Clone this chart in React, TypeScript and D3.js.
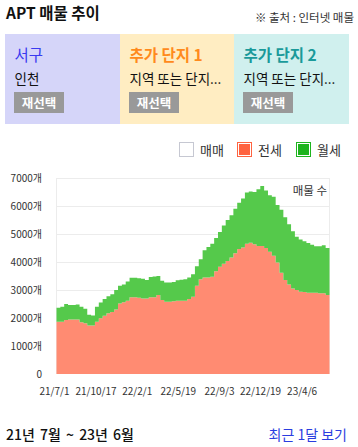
import React from "react";
import * as d3 from "d3";

const START_DATE = "2021-07-01";
const STEP_DAYS = 10;
const jeonse = [1870, 1870, 1930, 1950, 1950, 1950, 1850, 1810, 1730, 1730, 1870, 1990, 2080, 2170, 2210, 2300, 2520, 2560, 2620, 2740, 2740, 2720, 2700, 2700, 2740, 2740, 2820, 2640, 2580, 2580, 2600, 2620, 2620, 2620, 2680, 2760, 3150, 3380, 3450, 3450, 3470, 3670, 3830, 3940, 4040, 4160, 4310, 4460, 4520, 4650, 4690, 4630, 4570, 4570, 4500, 4370, 4220, 3980, 3620, 3360, 3200, 3050, 3000, 2940, 2930, 2900, 2900, 2900, 2880, 2880, 2820, 2760];
const wolse = [500, 530, 570, 510, 510, 530, 550, 520, 390, 360, 530, 560, 600, 610, 640, 700, 630, 640, 680, 700, 700, 700, 700, 660, 720, 740, 680, 690, 690, 690, 690, 730, 750, 760, 770, 800, 700, 720, 970, 1090, 1180, 1190, 1240, 1360, 1460, 1510, 1590, 1660, 1750, 1830, 1830, 1870, 2030, 2140, 2050, 2010, 2110, 2060, 2250, 2240, 2150, 2050, 1900, 1860, 1810, 1780, 1720, 1660, 1680, 1720, 1680, 1730];
const sale = jeonse.map(() => 0);
const xTickLabels = ["21/7/1", "21/10/17", "22/2/1", "22/5/19", "22/9/3", "22/12/19", "23/4/6"];
const xTickDates = ["2021-07-01", "2021-10-17", "2022-02-01", "2022-05-19", "2022-09-03", "2022-12-19", "2023-04-06"];
const yTicks = [0, 1000, 2000, 3000, 4000, 5000, 6000, 7000];
const legendNames = ["매매", "전세", "월세"];
const panelTitles = ["서구", "추가 단지 1", "추가 단지 2"];
const panelSubs = ["인천", "지역 또는 단지...", "지역 또는 단지..."];

const FONT = "'Noto Sans CJK KR', 'Noto Sans', sans-serif";

export default function App() {
  const W = 358, H = 447;
  const left = 56.5, right = 329.5, top = 178, bottom = 374;
  const parse = d3.utcParse("%Y-%m-%d");
  const start = parse(START_DATE)!;
  const dates = jeonse.map((_, i) => d3.utcDay.offset(start, i * STEP_DAYS));
  const x = d3.scaleUtc().domain([dates[0], dates[dates.length - 1]]).range([left, right]);
  const y = d3.scaleLinear().domain([0, 7000]).range([bottom, top]);
  const rows = dates.map((d, i) => ({ date: d, sale: sale[i], jeonse: jeonse[i], wolse: wolse[i] }));
  const stack = d3.stack<any>().keys(["sale", "jeonse", "wolse"]);
  const series = stack(rows);
  const area = d3.area<any>()
    .x((d) => x(d.data.date))
    .y0((d) => y(d[0]))
    .y1((d) => y(d[1]))
    .curve(d3.curveStepAfter);
  const fills = ["#ffffff", "#ff8b72", "#55c94b"];
  const legendColors = ["#c6c8d2", "#ff6340", "#1eb41e"];
  const legendX = [179, 237, 296];

  const panelBg = ["#d5d5f9", "#ffedc2", "#d0f0ee"];
  const panelTitleColor = ["#3a3af0", "#ff8a1c", "#1a9a9a"];
  const panelX = [5, 120, 234];
  const panelW = [115, 114, 115];

  return (
    <svg width={W} height={H} style={{ position: "absolute", left: 0, top: 0, background: "#fff" }} fontFamily={FONT}>
      <text x={6} y={19} fontSize={15.5} fontWeight="bold" fill="#111">APT 매물 추이</text>
      <text x={354} y={22} fontSize={11.5} fill="#333" textAnchor="end">※ 출처 : 인터넷 매물</text>

      {panelTitles.map((t, i) => (
        <g key={i}>
          <rect x={panelX[i]} y={34} width={panelW[i]} height={90} fill={panelBg[i]} />
          <text x={panelX[i] + 9.5} y={61} fontSize={15.5} fill={panelTitleColor[i]} fontWeight={i === 0 ? "normal" : "bold"}>{t}</text>
          <text x={panelX[i] + 9.5} y={84} fontSize={13.5} fill="#111">{panelSubs[i]}</text>
          <rect x={panelX[i] + 9} y={92} width={50} height={21} fill="#999" />
          <text x={panelX[i] + 34} y={107.5} fontSize={12.5} fontWeight="bold" fill="#fff" textAnchor="middle">재선택</text>
        </g>
      ))}

      {legendNames.map((n, i) => (
        <g key={n}>
          <rect x={legendX[i] + 0.5} y={142.5} width={14} height={14} fill="#fff" stroke={legendColors[i]} strokeWidth={1} />
          {i > 0 && <rect x={legendX[i] + 2} y={144} width={11} height={11} fill={legendColors[i]} />}
          <text x={legendX[i] + 21} y={154.5} fontSize={13} fill="#333">{n}</text>
        </g>
      ))}

      {yTicks.map((t) => (
        <g key={t}>
          {t > 0 && <line x1={left} x2={right} y1={y(t) + 0.5} y2={y(t) + 0.5} stroke="#ececec" />}
          <text x={42} y={y(t) + 3.5} fontSize={10} fill="#333" textAnchor="end">{t === 0 ? "0" : `${t}개`}</text>
        </g>
      ))}
      <line x1={left} x2={left} y1={top} y2={bottom} stroke="#ececec" />
      <line x1={right} x2={right} y1={top} y2={bottom} stroke="#ececec" />

      {series.map((s, i) => (
        <path key={s.key} d={area(s as any) || ""} fill={fills[i]} />
      ))}

      <text x={327} y={195} fontSize={11.5} fill="#333" textAnchor="end">매물 수</text>

      {xTickDates.map((d, i) => (
        <text key={d} x={x(parse(d)!) - 2} y={395} fontSize={10} fill="#333" textAnchor="middle">{xTickLabels[i]}</text>
      ))}

      <text x={6} y={440} fontSize={14} fill="#111" fontWeight={500} wordSpacing={2}>21년 7월 ~ 23년 6월</text>
      <text x={347} y={440} fontSize={14} fill="#2a3de0" textAnchor="end">최근 1달 보기</text>
    </svg>
  );
}
